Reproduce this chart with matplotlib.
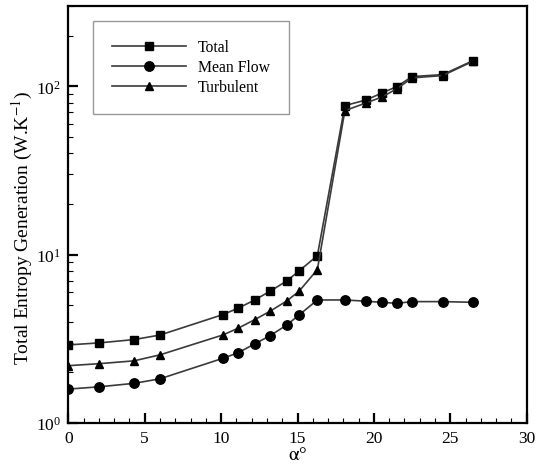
import numpy as np
import matplotlib
matplotlib.use("Agg")
import matplotlib.pyplot as plt
from matplotlib.ticker import LogLocator, MultipleLocator

plt.rcParams['font.family'] = ['Liberation Serif', 'DejaVu Serif']
plt.rcParams['mathtext.fontset'] = 'stix'

# angulos de ataque
alpha = [0, 2, 4.3, 6, 10.1, 11.1, 12.2, 13.2, 14.3, 15.1, 16.3,
         18.1, 19.5, 20.5, 21.5, 22.5, 24.5, 26.5]

total = [2.91, 2.99, 3.13, 3.33, 4.40, 4.80, 5.38, 6.06, 6.98, 8.00, 9.86,
         76.8, 83.0, 91.0, 99.6, 114.2, 117.3, 142.2]
mean_flow = [1.59, 1.64, 1.72, 1.83, 2.42, 2.61, 2.95, 3.30, 3.82, 4.38, 5.38,
             5.38, 5.29, 5.21, 5.14, 5.26, 5.26, 5.21]
turbulent = [2.19, 2.25, 2.34, 2.54, 3.33, 3.65, 4.11, 4.61, 5.31, 6.06, 8.15,
             71.7, 79.7, 86.2, 96.5, 112.2, 115.8, 141.0]

fig = plt.figure(figsize=(5.39, 4.64), dpi=100)
ax = fig.add_axes([0.1267, 0.0862, 0.8505, 0.8988])

lc = '#3a3a3a'
ax.plot(alpha, total, '-', color=lc, lw=1.2, marker='s', ms=5.3,
        mfc='black', mec='black', label='Total')
ax.plot(alpha, mean_flow, '-', color=lc, lw=1.2, marker='o', ms=6.8,
        mfc='black', mec='black', label='Mean Flow')
ax.plot(alpha, turbulent, '-', color=lc, lw=1.2, marker='^', ms=6,
        mfc='black', mec='black', label='Turbulent')

ax.set_yscale('log')
ax.set_xlim(0, 30)
ax.set_ylim(1, 300)
ax.xaxis.set_major_locator(MultipleLocator(5))
ax.xaxis.set_minor_locator(MultipleLocator(1))
ax.yaxis.set_major_locator(LogLocator(base=10))
ax.yaxis.set_minor_locator(LogLocator(base=10, subs=np.arange(2, 10)))

for s in ax.spines.values():
    s.set_linewidth(1.6)
ax.tick_params(which='both', direction='in', top=False, right=False,
               labelsize=12.5)
ax.tick_params(which='major', length=7, width=1.6, pad=5)
ax.tick_params(which='minor', length=3.5, width=0.8)

ax.set_xlabel(r'$\mathrm{\alpha}$°', fontsize=14, va='baseline')
ax.set_ylabel('Total Entropy Generation (W.K$^{-1}$)', fontsize=14)
ax.xaxis.set_label_coords(0.5, -0.087)
ax.yaxis.set_label_coords(-0.073, 0.47)

leg = ax.legend(loc='upper left', bbox_to_anchor=(0.0539, 0.965),
                fontsize=11.3, handlelength=4.7, handletextpad=0.8,
                borderpad=1.2, labelspacing=0.25, fancybox=False,
                borderaxespad=0)
leg.get_frame().set_edgecolor('#808080')
leg.get_frame().set_linewidth(1.0)

fig.savefig('out.png', dpi=100)
